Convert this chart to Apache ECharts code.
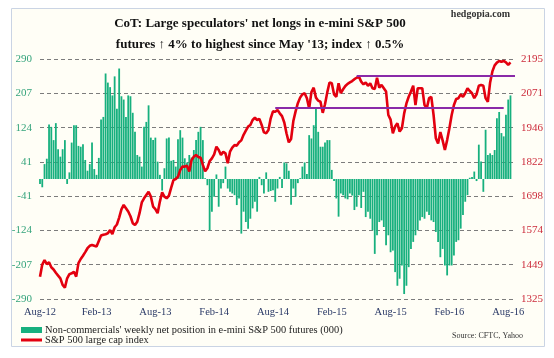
<!DOCTYPE html>
<html><head><meta charset="utf-8">
<script src="https://cdn.jsdelivr.net/npm/echarts@6/dist/echarts.min.js"></script>
<style>html,body{margin:0;padding:0;background:#fff}#c{width:554px;height:358px}</style>
</head><body><div id="c"></div>
<script>
// ---- data ----
const startDate = '2012-08-28';   // first weekly report in the chart
const weekCount = 211;            // axis runs two weeks past the last report

// Non-commercials' weekly net position in e-mini S&P 500 futures (000)
const netLongs = [
 -12,-20,36,49,132,126,94,135,72,54,72,94,-12,16,88,130,130,80,78,84,46,20,36,88,24,10,51,144,150,255,
 233,222,202,248,170,267,200,192,150,202,200,160,114,58,54,30,126,138,178,100,
 94,100,42,10,-28,26,98,100,44,46,30,96,118,100,50,40,58,52,70,94,114,126,94,
 2,-15,-124,-79,-43,11,-67,-23,-10,30,-23,-31,-35,-39,-63,-47,-132,-79,-104,-120,
 -96,-71,-55,-79,5,-15,-35,16,-31,-29,-27,-55,-23,5,-22,40,38,20,-62,-23,
 -43,-10,2,30,40,12,106,98,130,170,114,78,78,88,94,94,22,-5,-47,-91,
 -35,-39,-47,-49,-35,-40,
 -75,-67,-39,-70,-31,-92,-79,-96,-124,-181,-136,-104,-100,-116,-160,-136,-177,-173,-225,-258,
 -241,-209,-278,-258,-213,-169,-152,-136,-124,-100,-92,-96,-79,-87,-100,-104,-128,-152,-189,-169,
 -209,-233,-209,-209,-185,-152,-148,-120,-87,-55,-39,3,5,18,-5,83,42,-31,119,58,
 62,58,70,147,162,111,103,155,192,202
];
// S&P 500 large cap index
const spIndex = [
 1406,1450,1466,1451,1458,1440,1432,1420,1410,1400,1376,1366,1400,1415,1418,1424,1406,1455,1470,1482,
 1495,1509,1518,1521,1518,1515,1535,1555,1558,1560,1563,1575,1560,1585,1595,1620,1650,1666,1654,1642,
 1625,1600,1593,1605,1636,1675,1690,1702,1714,1696,1660,1651,1636,1678,1712,1696,1690,1700,1729,1756,
 1760,1768,1793,1805,1805,1808,1787,1829,1841,
 1847,1840,1837,1811,1788,1799,1825,1835,1849,1877,1865,1847,1859,1853,1817,1859,1874,1883,1881,1893,
 1900,1920,1935,1950,1956,1974,1982,1974,1978,1956,1929,1926,1938,1980,2005,2004,2010,1998,1988,1965,
 1925,1893,1905,1970,2005,2035,2055,2067,2071,2053,2016,2075,2091,2055,2044,2040,2000,2031,2074,2110,
 2107,2067,2058,2107,2071,2085,2097,2105,2110,2115,2122,
 2127,2131,2113,2103,2110,2098,2107,2089,2086,2127,2091,2101,2089,2077,1992,1975,1926,1950,1962,1932,
 1944,1998,2034,2058,2077,2098,2028,2089,2089,2089,2028,2016,2053,2058,1992,1908,1889,1930,1900,1865,
 1901,1944,1992,2028,2050,2053,2067,2058,2071,2089,2079,2071,2053,2067,2098,2101,2098,2053,2040,2110,
 2150,2172,2182,2188,2185,2188,2183,2174,2183
];
const leftTicks = [-290,-207,-124,-41,41,124,207,290];
const rightTicks = [1325,1449,1574,1698,1822,1946,2071,2195];
const tickLabels = ['Aug-12','Feb-13','Aug-13','Feb-14','Aug-14','Feb-15','Aug-15','Feb-16','Aug-16'];
const tickWeeks = [0,25,51,77,103,129,155,181,207];
// resistance / support levels on the index (purple lines): [level, fromWeek, toWeek]
const lowerLevel = [2020, 104, 205];
const upperLevel = [2133, 140, 210];

const barName = "Non-commercials' weekly net position in e-mini S&P 500 futures (000)";
const lineName = 'S&P 500 large cap index';

// weekly category dates
const categories = [];
{
  const d0 = new Date(startDate + 'T00:00:00Z');
  for (let i = 0; i < weekCount; i++) {
    const d = new Date(d0.getTime() + i * 7 * 86400000);
    categories.push(d.toISOString().slice(0, 10));
  }
}

const serif = 'Liberation Serif';
const chart = echarts.init(document.getElementById('c'), null, {renderer: 'canvas'});
chart.setOption({
  animation: false,
  backgroundColor: '#ffffff',
  graphic: [{
    type: 'rect', z: -10, silent: true,
    shape: {x: 11.5, y: 8.5, width: 533, height: 338},
    style: {fill: '#fffef6', stroke: '#cad4e4', lineWidth: 1}
  }],
  title: [{
    text: "CoT: Large speculators' net longs in e-mini S&P 500\nfutures \u2191 4% to highest since May '13; index \u2191 0.5%",
    left: 260, top: 13, textAlign: 'center', padding: 0,
    textStyle: {fontFamily: serif, fontWeight: 'bold', fontSize: 13, lineHeight: 21, color: '#111'}
  }, {
    text: 'hedgopia.com', right: 44, top: 9, padding: 0,
    textStyle: {fontFamily: serif, fontWeight: 'bold', fontSize: 10, color: '#333'}
  }, {
    text: 'Source: CFTC, Yahoo', right: 31, top: 332, padding: 0,
    textStyle: {fontFamily: serif, fontWeight: 'normal', fontSize: 8, color: '#333'}
  }],
  legend: [{
    data: [{name: barName, icon: 'rect'}], left: 21, top: 325, padding: 0,
    orient: 'vertical', itemWidth: 21, itemHeight: 6, selectedMode: false,
    textStyle: {fontFamily: serif, fontSize: 10.4, color: '#222', padding: [0,0,0,-2]}
  }, {
    data: [{name: lineName, icon: 'rect'}], left: 21, top: 335, padding: 0,
    orient: 'vertical', itemWidth: 21, itemHeight: 3, selectedMode: false,
    textStyle: {fontFamily: serif, fontSize: 10.4, color: '#222', padding: [0,0,0,-2]}
  }],
  grid: {left: 40, right: 39, top: 59, height: 240, containLabel: false},
  xAxis: {
    type: 'category', data: categories, boundaryGap: false,
    axisLine: {show: false}, axisTick: {show: false}, splitLine: {show: false},
    axisLabel: {
      interval: (idx) => tickWeeks.indexOf(idx) >= 0,
      formatter: (v, idx) => tickLabels[tickWeeks.indexOf(idx)] || '',
      fontFamily: serif, fontSize: 10.5, color: '#2b3a67', margin: 8
    }
  },
  yAxis: [{
    type: 'value', min: -290, max: 290, position: 'left',
    axisLine: {show: false},
    axisTick: {show: false, customValues: leftTicks},
    axisLabel: {customValues: leftTicks, formatter: (v) => String(v),
      fontFamily: serif, fontSize: 11, color: '#35a47c', margin: 8},
    splitLine: {show: true, lineStyle: {color: '#7c7c7c', width: 1, type: [4, 3]}}
  }, {
    type: 'value', min: 1325, max: 2195, position: 'right',
    axisLine: {show: false},
    axisTick: {show: false, customValues: rightTicks},
    axisLabel: {customValues: rightTicks, formatter: (v) => String(v),
      fontFamily: serif, fontSize: 11, color: '#cc2b3b', margin: 6},
    splitLine: {show: false}
  }],
  series: [{
    name: barName, type: 'bar', yAxisIndex: 0, data: netLongs,
    barWidth: 1.8, itemStyle: {color: '#17b07e'}, z: 2
  }, {
    name: lineName, type: 'line', yAxisIndex: 1, data: spIndex,
    symbol: 'none', showSymbol: false,
    itemStyle: {color: '#e3000f'},
    lineStyle: {color: '#e3000f', width: 2.6},
    z: 3,
    markLine: {
      silent: true, symbol: ['none', 'none'], label: {show: false},
      lineStyle: {color: '#8a2aa8', width: 2, type: 'solid'},
      data: [
        [{coord: [categories[lowerLevel[1]], lowerLevel[0]]}, {coord: [categories[lowerLevel[2]], lowerLevel[0]]}],
        [{coord: [categories[upperLevel[1]], upperLevel[0]]}, {coord: [categories[upperLevel[2]], upperLevel[0]]}]
      ]
    }
  }]
});
</script></body></html>
